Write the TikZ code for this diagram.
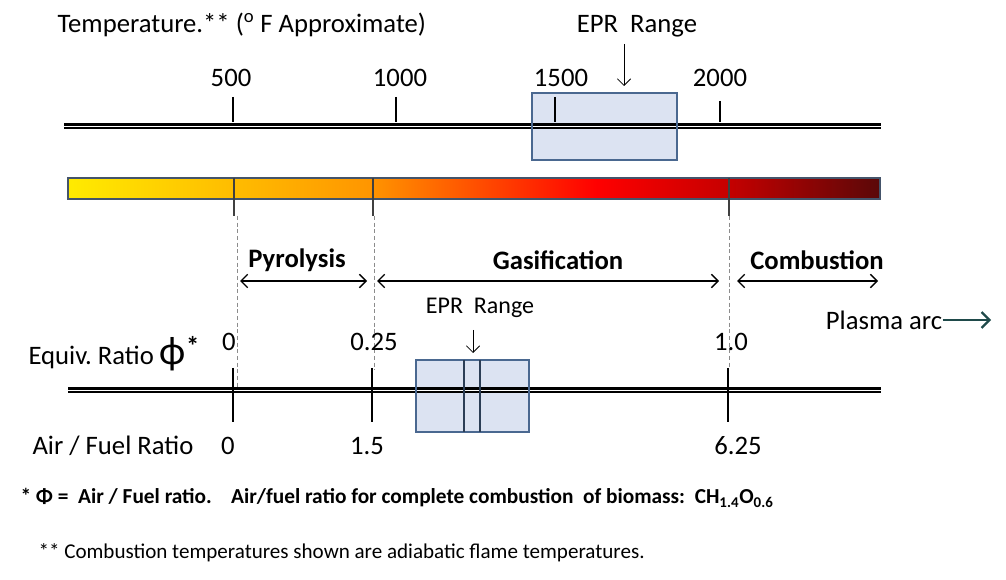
\documentclass[tikz,border=0pt]{standalone}
\usepackage{fontspec}
\setmainfont{Carlito}
\usetikzlibrary{arrows.meta, positioning, calc}
\definecolor{cbox}{HTML}{DCE3F2}
\definecolor{cboxline}{HTML}{4A6890}
\definecolor{cbar}{HTML}{44546A}
\definecolor{ctick}{HTML}{404040}
\definecolor{cdash}{HTML}{8C8C8C}
\definecolor{cteal}{HTML}{1F4A4A}
\definecolor{cyel}{HTML}{FFEB00}
\definecolor{corange}{HTML}{FF9600}
\definecolor{cred}{HTML}{FF0000}
\definecolor{cmaroon}{HTML}{5A0808}
% the path is mapped onto 25bp..75bp of the shading
\pgfdeclarehorizontalshading{heat}{100bp}{color(0bp)=(cyel); color(25bp)=(cyel); color(43.5bp)=(corange); color(57.5bp)=(cred); color(65.5bp)=(cred!78!black); color(75bp)=(cmaroon); color(100bp)=(cmaroon)}
\tikzset{
  every picture/.style={line width=0.8pt},
  dblaxis/.style={draw=black, line width=4.6pt, postaction={draw=white, line width=0.6pt}},
  tickline/.style={draw=black, line width=2pt},
  eprfill/.style={fill=cbox},
  eprline/.style={draw=cboxline, line width=1.8pt},
  heatbar/.style={draw=cbar, line width=1.8pt, shade, shading=heat},
  divider/.style={draw=ctick, line width=2.2pt},
  guide/.style={draw=cdash, line width=0.5pt, dash pattern=on 3pt off 2pt},
  phase/.style={{Straight Barb[length=5pt]}-{Straight Barb[length=5pt]}, line width=1pt},
  pointer/.style={-{Straight Barb[length=5pt]}, line width=0.6pt},
  lbl/.style={font=\fontsize{20}{23}\selectfont, inner sep=0pt},
  phaselbl/.style={font=\fontsize{20}{23}\selectfont\bfseries, inner sep=0pt},
  smalllbl/.style={font=\fontsize{18}{21}\selectfont, inner sep=0pt},
  footlbl/.style={font=\fontsize{15.8}{19}\selectfont, inner sep=0pt, anchor=west},
}
\begin{document}
\begin{tikzpicture}[x=0.75pt, y=-0.75pt]
  \useasboundingbox (0,0) rectangle (1006,580);
  % temperature scale
  \node[lbl, anchor=west] (ttitle) at (57,25) {Temperature.** (\textsuperscript{o} F Approximate)};
  \fill[eprfill] (532,93) rectangle (677,160);
  \coordinate (tL) at (64,126);
  \coordinate (tR) at (881,126);
  \draw[dblaxis] (tL) -- (tR);
  \foreach \v/\x/\lx/\yt in {500/233/231/97, 1000/396/400/97, 1500/555/561/97, 2000/720/720/101}
  {
    \draw[tickline] (\x,\yt) -- (\x,122);
    \node[lbl] (t\v) at (\lx,78) {\v};
  }
  \draw[eprline] (532,93) rectangle (677,160);
  \node[lbl] (eprtop) at (637,26) {EPR\ \ Range};
  \coordinate (eprtopend) at (624,86);
  \draw[pointer] (624,44) -- (eprtopend);
  % colour bar
  \draw[heatbar] (68,178) rectangle (880,199);
  \foreach \x in {234,373,729}
    \draw[divider] (\x,178) -- (\x,216);
  \draw[guide] (237,216) -- (237,387);
  \draw[guide] (374,216) -- (374,370);
  \draw[guide] (729,216) -- (729,368);
  % regimes
  \coordinate (pyA) at (240,281); \coordinate (pyB) at (367,281);
  \coordinate (gaA) at (377,281); \coordinate (gaB) at (719,281);
  \coordinate (coA) at (737,281); \coordinate (coB) at (878,281);
  \draw[phase] (pyA) -- (pyB);
  \draw[phase] (gaA) -- (gaB);
  \draw[phase] (coA) -- (coB);
  \node[phaselbl] (pyro) at (297,260) {Pyrolysis};
  \node[phaselbl] (gasi) at (558,260) {Gasification};
  \node[phaselbl] (comb) at (817,260) {Combustion};
  \node[lbl] (plasma) at (884,320) {Plasma arc};
  \coordinate (plasmaend) at (991,320);
  \draw[-{Straight Barb[length=6pt]}, draw=cteal, line width=1.6pt] (plasma.east) -- (plasmaend);
  % equivalence ratio scale
  \node[lbl, anchor=west] (eqlbl) at (28,354) {Equiv.\ Ratio {\fontsize{30}{30}\selectfont ϕ}\raisebox{0.35em}{\textbf{*}}};
  \node[lbl] (e0) at (229,342) {0};
  \node[lbl] (e025) at (374,342) {0.25};
  \node[lbl] (e10) at (731,342) {1.0};
  \node[smalllbl] (eprlow) at (480,308) {EPR\ \ Range};
  \coordinate (eprlowend) at (473,353);
  \draw[pointer] (473,330) -- (eprlowend);
  \fill[eprfill] (416,360) rectangle (529,432);
  \coordinate (bL) at (68,390);
  \coordinate (bR) at (881,390);
  \draw[dblaxis] (bL) -- (bR);
  \foreach \x in {233,372,728}
    \draw[tickline] (\x,368) -- (\x,422);
  \draw[eprline] (416,360) rectangle (529,432);
  \draw[draw=cboxline!60!black, line width=0.8pt] (464,360) -- (464,432) (480,360) -- (480,432);
  \node[lbl, anchor=west] (aflbl) at (32,446) {Air / Fuel Ratio};
  \node[lbl] (a0) at (228,446) {0};
  \node[lbl] (a15) at (367,446) {1.5};
  \node[lbl] (a625) at (738,446) {6.25};
  % footnotes
  \node[footlbl, font=\fontsize{16}{19}\selectfont\bfseries] (fn1) at (20,498) {* Φ =\ \ Air / Fuel ratio.\ \ \ \ Air/fuel ratio for complete combustion\ \ of biomass:\ \ CH\textsubscript{1.4}O\textsubscript{0.6}};
  \node[footlbl] (fn2) at (38,553) {** Combustion temperatures shown are adiabatic flame temperatures.};
\end{tikzpicture}
\end{document}
